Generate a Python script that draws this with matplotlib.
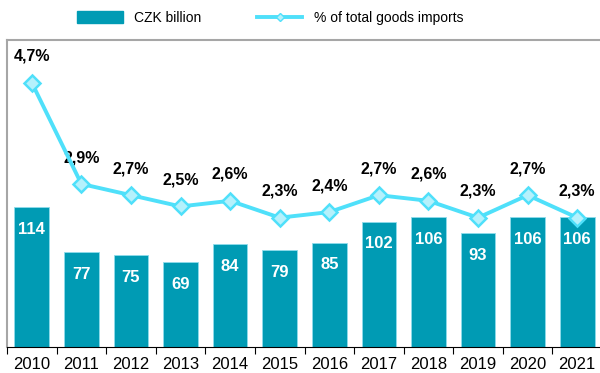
import matplotlib
matplotlib.use('Agg')
import matplotlib.pyplot as plt
from matplotlib.lines import Line2D
from matplotlib.patches import Patch

plt.rcParams['font.family'] = ['Liberation Sans', 'DejaVu Sans']

years = ['2010', '2011', '2012', '2013', '2014', '2015',
         '2016', '2017', '2018', '2019', '2020', '2021']
czk_billion = [114, 77, 75, 69, 84, 79, 85, 102, 106, 93, 106, 106]
share_pct = [4.7, 2.9, 2.7, 2.5, 2.6, 2.3, 2.4, 2.7, 2.6, 2.3, 2.7, 2.3]

bar_color = '#009bb4'
line_color = '#4fe0fa'
marker_fill = '#b5f1fc'

fig = plt.figure(figsize=(6.0, 3.73), dpi=100)
ax = fig.add_axes([7 / 600, 1 - 347 / 373, 595 / 600, 307 / 373])
x = list(range(len(years)))

bars = ax.bar(x, czk_billion, width=0.7, color=bar_color,
              edgecolor='#8fdceb', linewidth=0.6, zorder=2)
for xi, v in zip(x, czk_billion):
    ax.annotate(f'{v}', (xi, v), xytext=(0, -16), textcoords='offset points',
                ha='center', va='center', color='white',
                fontsize=12, fontweight='bold', zorder=3)

ax.set_ylim(0, 250)
ax.set_xlim(-0.5, len(years) - 0.5)
ax.set_yticks([])
ax.set_xticks(x)
ax.set_xticklabels(years, fontsize=12)
ax.tick_params(axis='x', length=0, pad=7)
# small tick marks between categories
ax.set_xticks([i - 0.5 for i in range(len(years) + 1)], minor=True)
ax.tick_params(axis='x', which='minor', length=5, width=0.8, direction='out')

ax.spines['left'].set_color('#a6a6a6')
ax.spines['left'].set_linewidth(1.5)
ax.spines['top'].set_color('#a6a6a6')
ax.spines['top'].set_linewidth(1.5)
ax.spines['right'].set_visible(False)
ax.spines['bottom'].set_color('black')
ax.spines['bottom'].set_linewidth(0.8)

ax2 = ax.twinx()
ax2.set_ylim(0, 5.46)
ax2.plot(x, share_pct, color=line_color, linewidth=2.8, marker='D',
         markersize=8.5, markerfacecolor=marker_fill,
         markeredgecolor=line_color, markeredgewidth=1.8, zorder=4)
for xi, v in zip(x, share_pct):
    ax2.annotate(f'{v:.1f}%'.replace('.', ','), (xi, v), xytext=(0, 19),
                 textcoords='offset points', ha='center', va='center',
                 fontsize=11.5, fontweight='bold', color='black')
ax2.set_yticks([])
for s in ax2.spines.values():
    s.set_visible(False)

handles = [Patch(facecolor=bar_color, edgecolor=bar_color),
           Line2D([0], [0], color=line_color, linewidth=2.8, marker='D',
                  markersize=4, markerfacecolor=marker_fill,
                  markeredgecolor=line_color)]
fig.legend(handles, ['CZK billion', '% of total goods imports'],
           loc='center', bbox_to_anchor=(0.45, 1 - 18 / 373), ncol=2,
           frameon=False, fontsize=10, handlelength=3.3,
           handleheight=0.9, columnspacing=4.0, handletextpad=0.8)

fig.savefig('out.png', dpi=100)
